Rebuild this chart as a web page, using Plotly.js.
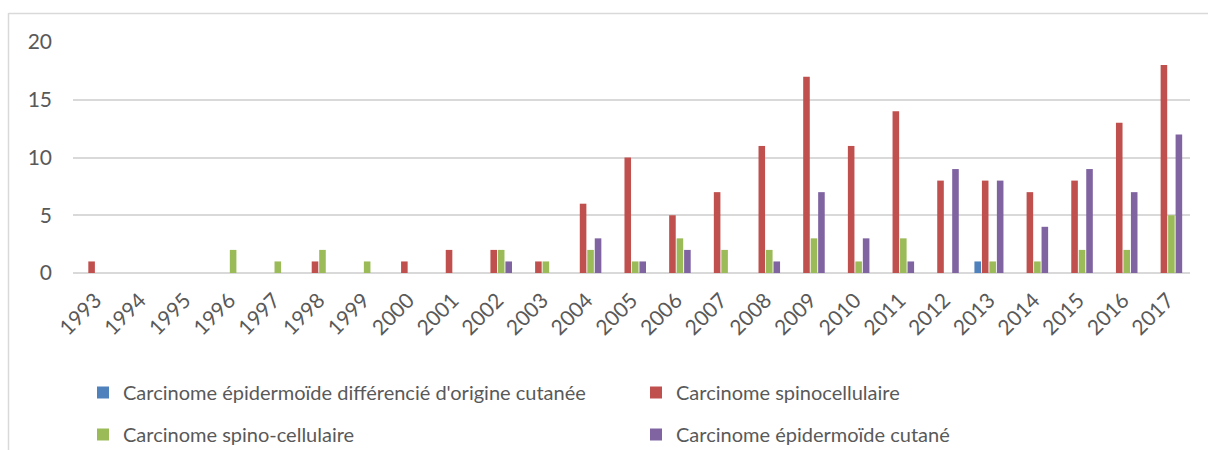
<!DOCTYPE html>
<html>
<head>
<meta charset="utf-8">
<script src="https://cdn.plot.ly/plotly-3.0.1.min.js"></script>
<style>
  html, body { margin: 0; padding: 0; background: #ffffff; }
  #chart { width: 1208px; height: 450px; }
</style>
</head>
<body>
<div id="chart"></div>
<script>
const years = ["1993","1994","1995","1996","1997","1998","1999","2000","2001","2002","2003","2004","2005","2006","2007","2008","2009","2010","2011","2012","2013","2014","2015","2016","2017"];

const seriesNames = [
  "Carcinome épidermoïde différencié d'origine cutanée",
  "Carcinome spinocellulaire",
  "Carcinome spino-cellulaire",
  "Carcinome épidermoïde cutané"
];

const epidermoideDifferencie = [0,0,0,0,0,0,0,0,0,0,0,0,0,0,0,0,0,0,0,0,1,0,0,0,0];
const spinocellulaire        = [1,0,0,0,0,1,0,1,2,2,1,6,10,5,7,11,17,11,14,8,8,7,8,13,18];
const spinoCellulaire        = [0,0,0,2,1,2,1,0,0,2,1,2,1,3,2,2,3,1,3,0,1,1,2,2,5];
const epidermoideCutane      = [0,0,0,0,0,0,0,0,0,1,0,3,1,2,0,1,7,3,1,9,8,4,9,7,12];

const colors = ["#4f81bd", "#c0504d", "#9bbb59", "#8064a2"];
const seriesValues = [epidermoideDifferencie, spinocellulaire, spinoCellulaire, epidermoideCutane];
const legendIds = ["legend", "legend2", "legend3", "legend4"];

const FONT = "Lato, 'Open Sans', sans-serif";

const traces = seriesValues.map((vals, i) => ({
  type: "bar",
  name: seriesNames[i],
  x: years,
  y: vals,
  marker: { color: colors[i], line: { width: 0 } },
  legend: legendIds[i],
  hoverinfo: "x+y+name"
}));

// plot area: left 73, right 1190, top 42, bottom 273
const L = 73, R = 1190, T = 42, B = 273, W = 1208, H = 450;
const pw = R - L, ph = B - T;
const px = v => (v - L) / pw;
const py = v => (B - v) / ph;

function legendAt(left, top) {
  return {
    orientation: "h",
    xanchor: "left",
    yanchor: "top",
    x: px(left),
    y: py(top),
    font: { family: FONT, size: 20, color: "#595959" },
    bgcolor: "rgba(0,0,0,0)",
    itemclick: false
  };
}

const layout = {
  width: W,
  height: H,
  margin: { l: L, r: W - R, t: T, b: H - B, pad: 0, autoexpand: false },
  paper_bgcolor: "#ffffff",
  plot_bgcolor: "#ffffff",
  font: { family: FONT, color: "#595959" },
  barmode: "group",
  bargap: 0.33,
  bargroupgap: 0.12,
  showlegend: true,
  xaxis: {
    type: "category",
    range: [-0.5, 24.5],
    tickangle: -45,
    tickfont: { family: FONT, size: 21, color: "#595959" },
    showgrid: false,
    zeroline: false,
    showline: false,
    ticks: "",
    ticklabelstandoff: 10,
    fixedrange: true
  },
  yaxis: {
    range: [0, 20],
    dtick: 5,
    tick0: 0,
    tickfont: { family: FONT, size: 21, color: "#595959" },
    showgrid: true,
    gridcolor: "#d9d9d9",
    gridwidth: 2,
    zeroline: true,
    zerolinecolor: "#d9d9d9",
    zerolinewidth: 2,
    showline: false,
    ticks: "",
    ticklabelstandoff: 20,
    fixedrange: true
  },
  legend: legendAt(83, 373),
  legend2: legendAt(636, 373),
  legend3: legendAt(83, 415),
  legend4: legendAt(636, 415),
  shapes: [
    { type: "line", xref: "paper", yref: "paper", x0: px(8.5), x1: px(8.5), y0: py(13), y1: py(452), line: { color: "#d9d9d9", width: 1.5 } },
    { type: "line", xref: "paper", yref: "paper", x0: px(8.5), x1: px(1210), y0: py(13.5), y1: py(13.5), line: { color: "#d9d9d9", width: 1.5 } }
  ]
};

Plotly.newPlot("chart", traces, layout, { displayModeBar: false, responsive: false });
</script>
</body>
</html>
